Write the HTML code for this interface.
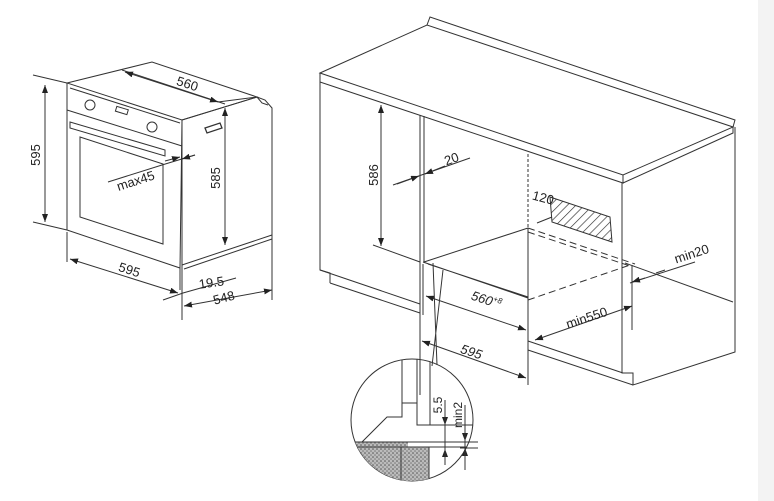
<!DOCTYPE html>
<html><head><meta charset="utf-8"><style>
html,body{margin:0;padding:0;background:#fff;}
svg{display:block;}
text{font-family:"Liberation Sans",sans-serif;fill:#222;}
</style></head><body>
<svg width="774" height="501" viewBox="0 0 774 501" xmlns="http://www.w3.org/2000/svg">
<defs>
<marker id="a" markerWidth="8" markerHeight="6" refX="8" refY="3" orient="auto" markerUnits="userSpaceOnUse"><path d="M0,0 L8,3 L0,6z" fill="#222"/></marker>
<marker id="b" markerWidth="8" markerHeight="6" refX="0" refY="3" orient="auto" markerUnits="userSpaceOnUse"><path d="M8,0 L0,3 L8,6z" fill="#222"/></marker>
<pattern id="h" width="6" height="6" patternUnits="userSpaceOnUse" patternTransform="rotate(45)"><line x1="0" y1="0" x2="0" y2="6" stroke="#333" stroke-width="1.3"/></pattern>
<pattern id="d" width="4" height="4" patternUnits="userSpaceOnUse"><rect width="4" height="4" fill="#bbb"/><circle cx="1" cy="1" r="0.8" fill="#555"/><circle cx="3" cy="3" r="0.8" fill="#777"/></pattern>
<clipPath id="c"><circle cx="412" cy="420" r="61"/></clipPath>
</defs>
<rect width="774" height="501" fill="#fff"/>
<rect x="758" y="0" width="16" height="501" fill="#f3f3f3"/>
<g fill="none" stroke="#333" stroke-width="1">
<!-- left oven -->
<path d="M67,83 L152,62 L257,97 L182,120 Z"/>
<path d="M67,83 L67,230 L180,268 L182,120"/>
<path d="M67,110 L182,146"/>
<path d="M70,88 L180,123"/>
<circle cx="90" cy="105" r="5"/><circle cx="152" cy="127" r="5"/>
<rect x="116" y="108" width="12" height="5" transform="rotate(17 122 110)"/>
<path d="M70,122 L165,150 L165,156 L70,128 Z"/>
<path d="M80,137 L163,164 L163,244 L80,217 Z"/>
<path d="M182,120 L257,97 L265,100 L272,108 L272,235"/>
<path d="M257,97 L262,103 L268,105"/>
<path d="M205,128 L220,123 L222,128 L207,133 Z" stroke-width="1.3"/>
<path d="M182,265 L272,235 L272,239 L184,269"/>
<path d="M182,120 L182,270 M180,268 L180,290"/>
<!-- dims left -->
<path d="M33,75 L67,83 M33,222 L67,230"/>
<line x1="45" y1="85" x2="45" y2="222" marker-start="url(#b)" marker-end="url(#a)"/>
<path d="M122,70 L225,104 M218,102 L257,97"/>
<line x1="125" y1="72" x2="218" y2="102" marker-start="url(#b)" marker-end="url(#a)"/>
<line x1="225" y1="108" x2="225" y2="245" marker-start="url(#b)" marker-end="url(#a)"/>
<path d="M108,182 L162,165 L195,155"/>
<line x1="165" y1="161" x2="180" y2="157" marker-end="url(#a)"/>
<line x1="195" y1="155" x2="182" y2="159" marker-end="url(#a)"/>
<path d="M67,232 L67,262"/>
<line x1="70" y1="259" x2="178" y2="293" marker-start="url(#b)" marker-end="url(#a)"/>
<path d="M163,300 L183,293 L236,278 M272,238 L272,300"/>
<line x1="184" y1="306" x2="272" y2="290" marker-start="url(#b)" marker-end="url(#a)"/>
<path d="M182,270 L182,320"/>
<!-- right cabinet -->
<path d="M320,73 L427,25 L733,127 L623,175 Z"/>
<path d="M427,25 L430,17 L735,120 L733,127"/>
<path d="M320,73 L320,82 L623,183 L623,175"/>
<path d="M623,183 L733,133 L733,127"/>
<path d="M320,82 L320,270 L330,273 L330,283"/>
<path d="M320,270 L420,304 M330,283 L420,313"/>
<path d="M528,341 L623,373 M528,350 L633,385"/>
<path d="M622,183 L622,373 L633,373 L633,385 L735,352 L735,127"/>
<path d="M420,115 L420,395 M424,116 L424,262 M423,264 L423,315"/>
<path d="M528,154 L528,228" stroke-dasharray="3,2"/>
<path d="M528,228 L528,385"/>
<path d="M424,262 L528,228"/>
<path d="M423,262 L528,298 M428,264 L528,297"/>
<path d="M528,228 L635,264 M528,232 L630,266" stroke-dasharray="7,4"/>
<path d="M528,300 L630,265" stroke-dasharray="7,4"/>
<path d="M550,197 L610,217 L612,242 L552,222 Z" fill="url(#h)"/>
<path d="M625,263 L733,302 M632,265 L632,330"/>
<path d="M537,223 L552,217" />
<!-- right dims -->
<path d="M373,245 L420,262"/>
<line x1="381" y1="105" x2="381" y2="246" marker-start="url(#b)" marker-end="url(#a)"/>
<path d="M393,185 L470,158"/>
<line x1="397" y1="184" x2="419" y2="176" marker-end="url(#a)"/>
<line x1="445" y1="166" x2="425" y2="174" marker-end="url(#a)"/>
<line x1="426" y1="296" x2="526" y2="330" marker-start="url(#b)" marker-end="url(#a)"/>
<line x1="535" y1="340" x2="632" y2="306" marker-start="url(#b)" marker-end="url(#a)"/>
<line x1="422" y1="341" x2="526" y2="378" marker-start="url(#b)" marker-end="url(#a)"/>
<path d="M630,283 L695,262"/>
<line x1="645" y1="278" x2="632" y2="282" marker-end="url(#a)"/>
<line x1="665" y1="270" x2="656" y2="273"/>
<!-- leader lines -->
<path d="M443,270 L432,366 M433,263 L437,365"/>
<!-- detail circle -->
<circle cx="412" cy="420" r="61"/>
<g clip-path="url(#c)">
<rect x="350" y="442" width="58" height="40" fill="url(#d)" stroke="none"/>
<rect x="401" y="447" width="28" height="40" fill="url(#d)" stroke="none"/>
<path d="M340,442 L480,442 M340,447 L480,447 M401,447 L401,490 M429,447 L429,490"/>
<path d="M402,355 L402,403 L417,403 L417,355 M417,355 L417,425 L430,425 L430,355 M402,403 L402,417 L387,417 L362,442"/>
<path d="M430,425 L490,425"/>
</g>
<line x1="445" y1="418" x2="445" y2="425" marker-end="url(#a)"/>
<line x1="445" y1="460" x2="445" y2="449" marker-end="url(#a)"/>
<line x1="465" y1="430" x2="465" y2="441" marker-end="url(#a)"/>
<line x1="465" y1="465" x2="465" y2="448" marker-end="url(#a)"/>
<path d="M445,400 L445,465 M465,405 L465,470 M460,448 L478,448 M460,442 L478,442"/>
</g>
<!-- labels -->
<g font-size="13">
<text transform="translate(40,155) rotate(-90)" text-anchor="middle">595</text>
<text transform="translate(186,88) rotate(18)" text-anchor="middle">560</text>
<text transform="translate(220,178) rotate(-90)" text-anchor="middle">585</text>
<text transform="translate(137,185) rotate(-18)" text-anchor="middle">max45</text>
<text transform="translate(128,274) rotate(18)" text-anchor="middle">595</text>
<text transform="translate(212,287) rotate(-8)" text-anchor="middle">19.5</text>
<text transform="translate(225,302) rotate(-15)" text-anchor="middle">548</text>
<text transform="translate(378,175) rotate(-90)" text-anchor="middle">586</text>
<text transform="translate(453,163) rotate(-20)" text-anchor="middle">20</text>
<text transform="translate(542,202) rotate(15)" text-anchor="middle">120</text>
<text transform="translate(693,258) rotate(-18)" text-anchor="middle">min20</text>
<text transform="translate(485,304) rotate(18)" text-anchor="middle" font-style="italic">560<tspan font-size="8" dy="-5">+8</tspan></text>
<text transform="translate(588,322) rotate(-18)" text-anchor="middle">min550</text>
<text transform="translate(470,356) rotate(18)" text-anchor="middle" font-style="italic">595</text>
<text transform="translate(442,405) rotate(-90)" text-anchor="middle" font-size="12">5.5</text>
<text transform="translate(462,415) rotate(-90)" text-anchor="middle" font-size="12">min2</text>
</g>
</svg>
</body></html>
